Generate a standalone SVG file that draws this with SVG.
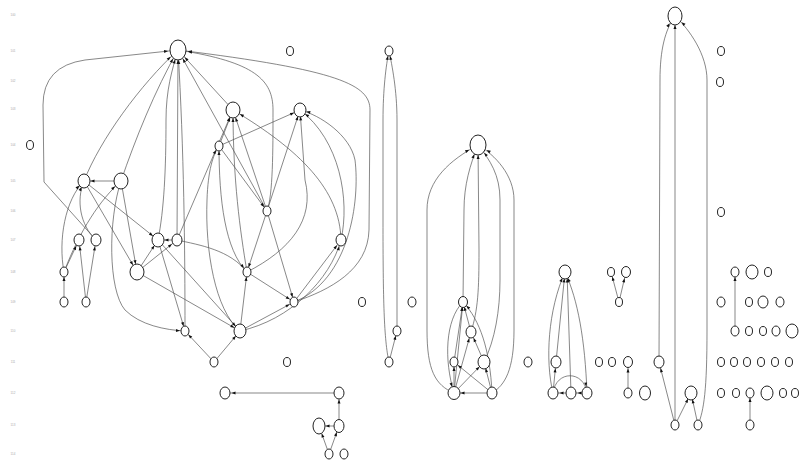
<svg xmlns="http://www.w3.org/2000/svg" width="799" height="462" viewBox="0 0 799 462">
<style>
.n{fill:#fff;stroke:#222;stroke-width:1}
.e{fill:none;stroke:#555;stroke-width:0.7}
.ax{font-family:"Liberation Sans",sans-serif;font-size:3px;fill:#aaa;text-anchor:middle}
</style>
<defs>
<marker id="a5" markerUnits="userSpaceOnUse" markerWidth="4" markerHeight="3" refX="9" refY="1.5" orient="auto" overflow="visible"><path d="M0,0L4,1.5L0,3z" fill="#111"/></marker>
<marker id="a6" markerUnits="userSpaceOnUse" markerWidth="4" markerHeight="3" refX="10.5" refY="1.5" orient="auto" overflow="visible"><path d="M0,0L4,1.5L0,3z" fill="#111"/></marker>
<marker id="a8" markerUnits="userSpaceOnUse" markerWidth="4" markerHeight="3" refX="12" refY="1.5" orient="auto" overflow="visible"><path d="M0,0L4,1.5L0,3z" fill="#111"/></marker>
<marker id="a9" markerUnits="userSpaceOnUse" markerWidth="4" markerHeight="3" refX="13" refY="1.5" orient="auto" overflow="visible"><path d="M0,0L4,1.5L0,3z" fill="#111"/></marker>
<marker id="a10" markerUnits="userSpaceOnUse" markerWidth="4" markerHeight="3" refX="14" refY="1.5" orient="auto" overflow="visible"><path d="M0,0L4,1.5L0,3z" fill="#111"/></marker>
</defs>
<rect width="799" height="462" fill="#fff"/>
<g id="axis">
<text class="ax" x="13" y="16">100</text>
<text class="ax" x="13" y="52">101</text>
<text class="ax" x="13" y="82">102</text>
<text class="ax" x="13" y="110">103</text>
<text class="ax" x="13" y="146">104</text>
<text class="ax" x="13" y="182">105</text>
<text class="ax" x="13" y="212">106</text>
<text class="ax" x="13" y="241">107</text>
<text class="ax" x="13" y="273">108</text>
<text class="ax" x="13" y="303">109</text>
<text class="ax" x="13" y="332">110</text>
<text class="ax" x="13" y="363">111</text>
<text class="ax" x="13" y="394">112</text>
<text class="ax" x="13" y="426">113</text>
<text class="ax" x="13" y="455">114</text>
</g>
<g id="connectors">
<path class="e" marker-end="url(#a10)" d="M96,240 L44,182 L43,105 Q43,66 85,60 L178,50"/>
<path class="e" marker-end="url(#a10)" d="M84,181 C100,140 140,85 178,50"/>
<path class="e" marker-end="url(#a10)" d="M121,181 C135,140 155,90 178,50"/>
<path class="e" marker-end="url(#a10)" d="M158,240 C164,210 166,170 166,120 C166,90 172,70 178,50"/>
<path class="e" marker-end="url(#a10)" d="M177,240 L178,50"/>
<path class="e" marker-end="url(#a10)" d="M185,331 C185,250 184,150 178,50"/>
<path class="e" marker-end="url(#a10)" d="M267,211 L178,50"/>
<path class="e" marker-end="url(#a10)" d="M233,110 L178,50"/>
<path class="e" marker-end="url(#a10)" d="M267,211 C273,195 273,150 273,110 C273,80 255,62 178,50"/>
<path class="e" marker-end="url(#a10)" d="M294,302 C330,290 368,270 369,230 L370,110 C370,85 340,70 178,50"/>
<path class="e" marker-end="url(#a8)" d="M219,146 L233,110"/>
<path class="e" marker-end="url(#a6)" d="M219,146 L300,110"/>
<path class="e" marker-end="url(#a8)" d="M267,211 L233,110"/>
<path class="e" marker-end="url(#a8)" d="M247,272 C240,230 233,180 233,110"/>
<path class="e" marker-end="url(#a5)" d="M247,272 C225,250 219,200 219,146"/>
<path class="e" marker-end="url(#a8)" d="M341,240 C340,190 300,150 233,110"/>
<path class="e" marker-end="url(#a6)" d="M341,240 C350,200 340,140 300,110"/>
<path class="e" marker-end="url(#a6)" d="M294,302 C350,280 360,200 355,160 C350,135 320,115 300,110"/>
<path class="e" marker-end="url(#a6)" d="M267,211 L300,110"/>
<path class="e" marker-end="url(#a6)" d="M247,272 C290,250 315,220 305,180 L300,110"/>
<path class="e" marker-end="url(#a8)" d="M177,240 L233,110"/>
<path class="e" marker-end="url(#a5)" d="M240,331 C215,310 205,250 207,200 C208,170 213,155 219,146"/>
<path class="e" marker-end="url(#a5)" d="M219,146 L267,211"/>
<path class="e" marker-end="url(#a5)" d="M267,211 L247,272"/>
<path class="e" marker-end="url(#a5)" d="M267,211 L294,302"/>
<path class="e" marker-end="url(#a5)" d="M247,272 L294,302"/>
<path class="e" marker-end="url(#a5)" d="M240,331 L247,272"/>
<path class="e" marker-end="url(#a5)" d="M240,331 L294,302"/>
<path class="e" marker-end="url(#a6)" d="M294,302 L341,240"/>
<path class="e" marker-end="url(#a6)" d="M240,331 C290,320 330,280 341,240"/>
<path class="e" marker-end="url(#a6)" d="M214,362 L240,331"/>
<path class="e" marker-end="url(#a5)" d="M214,362 L185,331"/>
<path class="e" marker-end="url(#a6)" d="M121,181 L84,181"/>
<path class="e" marker-end="url(#a6)" d="M64,272 C58,240 65,200 84,181"/>
<path class="e" marker-end="url(#a8)" d="M64,272 C80,230 100,200 121,181"/>
<path class="e" marker-end="url(#a5)" d="M64,302 L64,272"/>
<path class="e" marker-end="url(#a6)" d="M86,302 L79,240"/>
<path class="e" marker-end="url(#a6)" d="M86,302 L96,240"/>
<path class="e" marker-end="url(#a6)" d="M64,272 L79,240"/>
<path class="e" marker-end="url(#a6)" d="M96,240 C80,225 76,200 84,181"/>
<path class="e" marker-end="url(#a8)" d="M84,181 L137,272"/>
<path class="e" marker-end="url(#a6)" d="M84,181 L158,240"/>
<path class="e" marker-end="url(#a8)" d="M121,181 L137,272"/>
<path class="e" marker-end="url(#a6)" d="M137,272 L158,240"/>
<path class="e" marker-end="url(#a6)" d="M177,240 L158,240"/>
<path class="e" marker-end="url(#a6)" d="M137,272 L177,240"/>
<path class="e" marker-end="url(#a5)" d="M121,181 C108,220 108,290 125,310 C140,325 165,330 185,331"/>
<path class="e" marker-end="url(#a5)" d="M158,240 L185,331"/>
<path class="e" marker-end="url(#a5)" d="M177,240 C200,245 230,250 247,272"/>
<path class="e" marker-end="url(#a6)" d="M137,272 L240,331"/>
<path class="e" marker-end="url(#a6)" d="M158,240 L240,331"/>
<path class="e" marker-end="url(#a5)" d="M389,362 C384,340 383,300 383,220 L383,120 C383,90 386,65 389,51"/>
<path class="e" marker-end="url(#a5)" d="M397,331 L397,120 C397,90 392,65 389,51"/>
<path class="e" marker-end="url(#a5)" d="M389,362 L397,331"/>
<path class="e" marker-end="url(#a10)" d="M454,393 C435,385 427,370 427,330 L427,210 C427,180 450,160 478,145"/>
<path class="e" marker-end="url(#a10)" d="M463,302 L464,210 C464,185 470,165 478,145"/>
<path class="e" marker-end="url(#a10)" d="M471,332 C478,310 479,290 479,250 L478,145"/>
<path class="e" marker-end="url(#a10)" d="M484,362 C495,340 500,310 500,280 L500,200 C500,175 490,160 478,145"/>
<path class="e" marker-end="url(#a10)" d="M492,393 C505,385 514,370 514,330 L514,200 C514,175 495,155 478,145"/>
<path class="e" marker-end="url(#a5)" d="M454,393 L463,302"/>
<path class="e" marker-end="url(#a5)" d="M492,393 C490,350 480,320 463,302"/>
<path class="e" marker-end="url(#a5)" d="M454,362 L463,302"/>
<path class="e" marker-end="url(#a5)" d="M471,332 L463,302"/>
<path class="e" marker-end="url(#a6)" d="M454,393 L471,332"/>
<path class="e" marker-end="url(#a6)" d="M484,362 L471,332"/>
<path class="e" marker-end="url(#a5)" d="M492,393 L454,362"/>
<path class="e" marker-end="url(#a5)" d="M454,393 L454,362"/>
<path class="e" marker-end="url(#a6)" d="M454,393 L484,362"/>
<path class="e" marker-end="url(#a6)" d="M492,393 L484,362"/>
<path class="e" marker-end="url(#a6)" d="M492,393 L454,393"/>
<path class="e" marker-end="url(#a6)" d="M463,302 C445,320 444,360 454,393"/>
<path class="e" marker-end="url(#a6)" d="M556,362 L565,272"/>
<path class="e" marker-end="url(#a6)" d="M553,393 C545,360 548,310 565,272"/>
<path class="e" marker-end="url(#a6)" d="M571,393 L567,272"/>
<path class="e" marker-end="url(#a6)" d="M587,393 C585,340 578,300 565,272"/>
<path class="e" marker-end="url(#a6)" d="M571,393 L553,393"/>
<path class="e" marker-end="url(#a6)" d="M587,393 L571,393"/>
<path class="e" marker-end="url(#a6)" d="M553,393 C556,370 584,370 587,393"/>
<path class="e" marker-end="url(#a6)" d="M553,393 L556,362"/>
<path class="e" marker-end="url(#a6)" d="M339,393 L225,393"/>
<path class="e" marker-end="url(#a6)" d="M339,426 L339,393"/>
<path class="e" marker-end="url(#a6)" d="M339,426 L319,426"/>
<path class="e" marker-end="url(#a8)" d="M329,454 L319,426"/>
<path class="e" marker-end="url(#a6)" d="M329,454 L339,426"/>
<path class="e" marker-end="url(#a5)" d="M619,302 L611,272"/>
<path class="e" marker-end="url(#a6)" d="M619,302 L626,272"/>
<path class="e" marker-end="url(#a6)" d="M628,393 L628,362"/>
<path class="e" marker-end="url(#a5)" d="M735,331 L735,272"/>
<path class="e" marker-end="url(#a5)" d="M750,425 L750,393"/>
<path class="e" marker-end="url(#a9)" d="M659,362 L660,80 C660,50 665,30 675,16"/>
<path class="e" marker-end="url(#a9)" d="M675,425 L675,16"/>
<path class="e" marker-end="url(#a9)" d="M698,425 C704,410 707,390 707,330 L707,80 C707,55 690,30 675,16"/>
<path class="e" marker-end="url(#a6)" d="M675,425 L659,362"/>
<path class="e" marker-end="url(#a6)" d="M675,425 L691,393"/>
<path class="e" marker-end="url(#a6)" d="M698,425 L691,393"/>
</g>
<g id="nodes">
<ellipse id="nA" class="n" cx="178" cy="50" rx="8" ry="10"/>
<ellipse id="nB" class="n" cx="233" cy="110" rx="7" ry="8"/>
<ellipse id="nC" class="n" cx="300" cy="110" rx="6" ry="7"/>
<ellipse id="nD" class="n" cx="219" cy="146" rx="4" ry="5"/>
<ellipse id="nE" class="n" cx="84" cy="181" rx="6" ry="7"/>
<ellipse id="nF" class="n" cx="121" cy="181" rx="7" ry="8"/>
<ellipse id="nG" class="n" cx="267" cy="211" rx="4" ry="5"/>
<ellipse id="nH" class="n" cx="79" cy="240" rx="5" ry="6"/>
<ellipse id="nI" class="n" cx="96" cy="240" rx="5" ry="6"/>
<ellipse id="nJ" class="n" cx="158" cy="240" rx="6" ry="7"/>
<ellipse id="nK" class="n" cx="177" cy="240" rx="5" ry="6"/>
<ellipse id="nL" class="n" cx="341" cy="240" rx="5" ry="6"/>
<ellipse id="nM" class="n" cx="64" cy="272" rx="4" ry="5"/>
<ellipse id="nN" class="n" cx="137" cy="272" rx="7" ry="8"/>
<ellipse id="nO" class="n" cx="247" cy="272" rx="4" ry="5"/>
<ellipse id="nP" class="n" cx="64" cy="302" rx="4" ry="5"/>
<ellipse id="nQ" class="n" cx="86" cy="302" rx="4" ry="5"/>
<ellipse id="nR" class="n" cx="294" cy="302" rx="4" ry="5"/>
<ellipse id="nT" class="n" cx="185" cy="331" rx="4" ry="5"/>
<ellipse id="nU" class="n" cx="240" cy="331" rx="6" ry="7"/>
<ellipse id="nV" class="n" cx="214" cy="362" rx="4" ry="5"/>
<ellipse id="i1" class="n" cx="30" cy="145" rx="3.5" ry="4.5"/>
<ellipse id="i2" class="n" cx="290" cy="51" rx="3.5" ry="4.5"/>
<ellipse id="i3" class="n" cx="362" cy="302" rx="3.5" ry="4.5"/>
<ellipse id="i4" class="n" cx="287" cy="362" rx="3.5" ry="4.5"/>
<ellipse id="t1" class="n" cx="389" cy="51" rx="4" ry="5"/>
<ellipse id="t2" class="n" cx="397" cy="331" rx="4" ry="5"/>
<ellipse id="t3" class="n" cx="389" cy="362" rx="4" ry="5"/>
<ellipse id="i5" class="n" cx="412" cy="302" rx="4" ry="5"/>
<ellipse id="nX" class="n" cx="478" cy="145" rx="8" ry="10"/>
<ellipse id="xa" class="n" cx="463" cy="302" rx="4.5" ry="5.5"/>
<ellipse id="xb" class="n" cx="471" cy="332" rx="5" ry="6"/>
<ellipse id="xc" class="n" cx="454" cy="362" rx="4" ry="5"/>
<ellipse id="xd" class="n" cx="484" cy="362" rx="6" ry="7"/>
<ellipse id="xe" class="n" cx="454" cy="393" rx="6" ry="6.5"/>
<ellipse id="xf" class="n" cx="492" cy="393" rx="5" ry="6"/>
<ellipse id="i6" class="n" cx="528" cy="362" rx="4" ry="5"/>
<ellipse id="nY" class="n" cx="565" cy="272" rx="6" ry="7"/>
<ellipse id="yg" class="n" cx="556" cy="362" rx="5" ry="6"/>
<ellipse id="yh" class="n" cx="553" cy="393" rx="5" ry="6"/>
<ellipse id="yi" class="n" cx="571" cy="393" rx="5" ry="6"/>
<ellipse id="yj" class="n" cx="587" cy="393" rx="5" ry="6"/>
<ellipse id="b1" class="n" cx="225" cy="393" rx="5" ry="6"/>
<ellipse id="b2" class="n" cx="339" cy="393" rx="5" ry="6"/>
<ellipse id="b3" class="n" cx="319" cy="426" rx="6" ry="8"/>
<ellipse id="b4" class="n" cx="339" cy="426" rx="5" ry="6.5"/>
<ellipse id="b5" class="n" cx="329" cy="454" rx="4" ry="5"/>
<ellipse id="b6" class="n" cx="344" cy="454" rx="4" ry="5"/>
<ellipse id="r1" class="n" cx="611" cy="272" rx="3.5" ry="4.5"/>
<ellipse id="r2" class="n" cx="626" cy="272" rx="4.5" ry="5.5"/>
<ellipse id="r3" class="n" cx="619" cy="302" rx="3.5" ry="4.5"/>
<ellipse id="r4" class="n" cx="599" cy="362" rx="3.5" ry="4.5"/>
<ellipse id="r5" class="n" cx="612" cy="362" rx="3.5" ry="4.5"/>
<ellipse id="r6" class="n" cx="628" cy="362" rx="4.5" ry="5.5"/>
<ellipse id="r7" class="n" cx="628" cy="393" rx="4" ry="5"/>
<ellipse id="r8" class="n" cx="645" cy="393" rx="5.5" ry="7"/>
<ellipse id="w0" class="n" cx="675" cy="16" rx="7" ry="9"/>
<ellipse id="w1" class="n" cx="659" cy="362" rx="5" ry="6"/>
<ellipse id="w2" class="n" cx="691" cy="393" rx="6" ry="7"/>
<ellipse id="w3" class="n" cx="675" cy="425" rx="4" ry="5"/>
<ellipse id="w4" class="n" cx="698" cy="425" rx="4" ry="5"/>
<ellipse id="s1" class="n" cx="721" cy="51" rx="3.5" ry="4.5"/>
<ellipse id="s2" class="n" cx="720" cy="82" rx="3.5" ry="4.5"/>
<ellipse id="s3" class="n" cx="721" cy="212" rx="3.5" ry="4.5"/>
<ellipse id="s4" class="n" cx="735" cy="272" rx="4" ry="5"/>
<ellipse id="s5" class="n" cx="752" cy="272" rx="6" ry="7"/>
<ellipse id="s6" class="n" cx="768" cy="272" rx="3.5" ry="4.5"/>
<ellipse id="s7" class="n" cx="721" cy="302" rx="4" ry="5"/>
<ellipse id="s8" class="n" cx="749" cy="302" rx="3.5" ry="4.5"/>
<ellipse id="s9" class="n" cx="763" cy="302" rx="5" ry="6"/>
<ellipse id="s10" class="n" cx="780" cy="302" rx="4" ry="5"/>
<ellipse id="s11" class="n" cx="735" cy="331" rx="4" ry="5"/>
<ellipse id="s12" class="n" cx="749" cy="331" rx="3.5" ry="4.5"/>
<ellipse id="s13" class="n" cx="763" cy="331" rx="3.5" ry="4.5"/>
<ellipse id="s14" class="n" cx="776" cy="331" rx="4" ry="5"/>
<ellipse id="s15" class="n" cx="792" cy="331" rx="6" ry="7"/>
<ellipse id="s16" class="n" cx="721" cy="362" rx="3.5" ry="4.5"/>
<ellipse id="s17" class="n" cx="734" cy="362" rx="3.5" ry="4.5"/>
<ellipse id="s18" class="n" cx="747" cy="362" rx="3.5" ry="4.5"/>
<ellipse id="s19" class="n" cx="761" cy="362" rx="3.5" ry="4.5"/>
<ellipse id="s20" class="n" cx="775" cy="362" rx="3.5" ry="4.5"/>
<ellipse id="s21" class="n" cx="789" cy="362" rx="3.5" ry="4.5"/>
<ellipse id="s22" class="n" cx="721" cy="393" rx="3.5" ry="4.5"/>
<ellipse id="s23" class="n" cx="736" cy="393" rx="3.5" ry="4.5"/>
<ellipse id="s24" class="n" cx="750" cy="393" rx="4" ry="5"/>
<ellipse id="s25" class="n" cx="767" cy="393" rx="6" ry="7"/>
<ellipse id="s26" class="n" cx="783" cy="393" rx="3.5" ry="4.5"/>
<ellipse id="s27" class="n" cx="795" cy="393" rx="3.5" ry="4.5"/>
<ellipse id="s28" class="n" cx="750" cy="425" rx="4" ry="5"/>
</g>
</svg>
